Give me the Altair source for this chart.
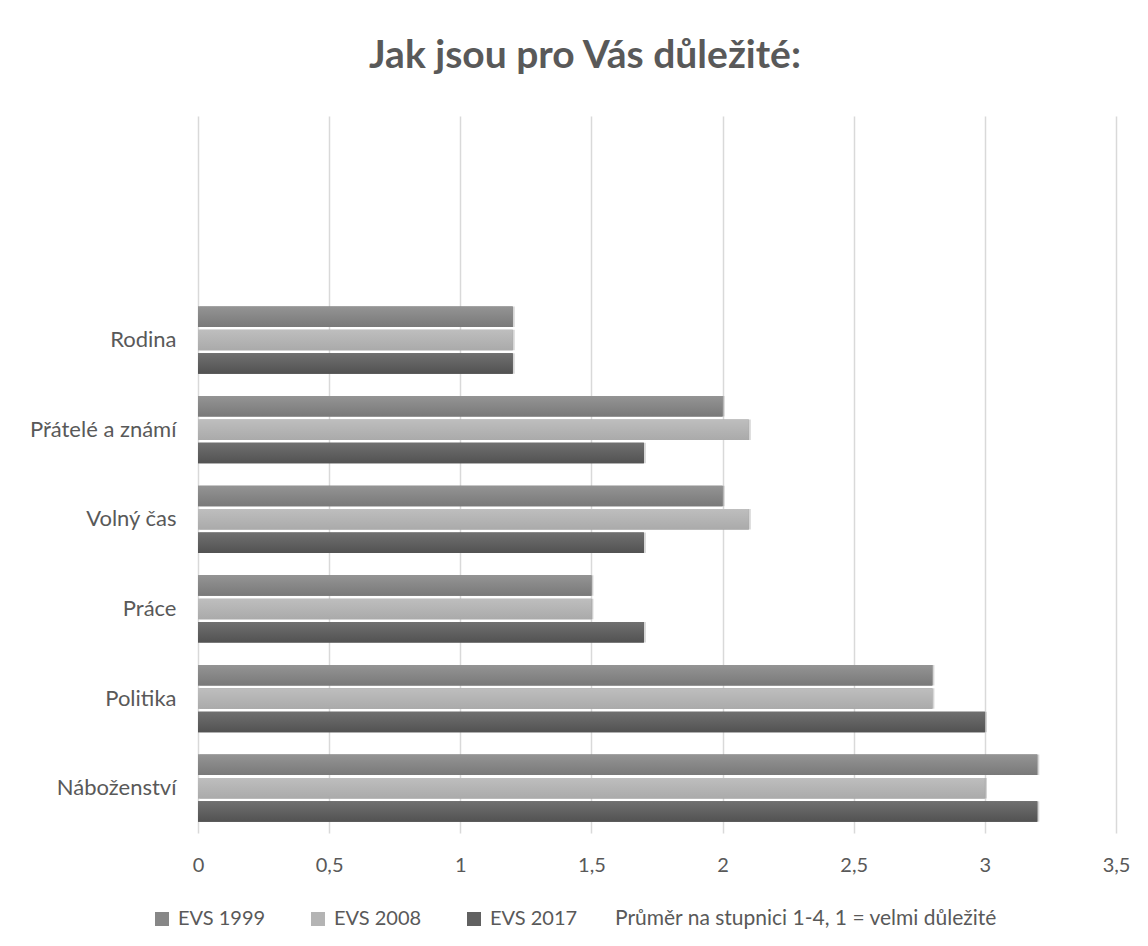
import altair as alt
import pandas as pd

categories = ["Rodina", "Přátelé a známí", "Volný čas", "Práce", "Politika", "Náboženství"]
blank_rows = [" ", "  "]
series = ["EVS 1999", "EVS 2008", "EVS 2017"]
v1999 = [1.2, 2.0, 2.0, 1.5, 2.8, 3.2]
v2008 = [1.2, 2.1, 2.1, 1.5, 2.8, 3.0]
v2017 = [1.2, 1.7, 1.7, 1.7, 3.0, 3.2]
x_ticks = [0, 0.5, 1, 1.5, 2, 2.5, 3, 3.5]
note = "Průměr na stupnici 1-4, 1 = velmi důležité"

flat_colors = ["#878787", "#b4b4b4", "#616161"]
grad_stops = [("#949494", "#797979"), ("#bebebe", "#aaaaaa"), ("#707070", "#525252")]

rows = []
for s, vals in zip(series, [v1999, v2008, v2017]):
    for c, v in zip(categories, vals):
        rows.append({"category": c, "series": s, "value": v})
df = pd.DataFrame(rows)

FONT = "Lato"
TXT = "#595959"
y_domain = blank_rows + categories

base = alt.Chart(df).encode(
    y=alt.Y("category:N", sort=y_domain,
            scale=alt.Scale(domain=y_domain, paddingInner=0.25, paddingOuter=0.125),
            axis=alt.Axis(title=None, domain=False, ticks=False, grid=False,
                          labelPadding=22, labelFontSize=22, labelFont=FONT, labelColor=TXT)),
    yOffset=alt.YOffset("series:N", sort=series,
                        scale=alt.Scale(domain=series, paddingInner=0.12, paddingOuter=0)),
    x=alt.X("value:Q",
            scale=alt.Scale(domain=[0, 3.5], nice=False),
            axis=alt.Axis(title=None, values=x_ticks, domain=False, ticks=False,
                          grid=True, gridColor="#d9d9d9", gridWidth=1.5, labelFlush=False,
                          labelPadding=22, labelFontSize=20, labelFont=FONT, labelColor=TXT,
                          labelExpr="replace(format(datum.value, '~g'), '.', ',')")),
)

legend_layer = base.mark_bar().encode(
    color=alt.Color("series:N", sort=series,
                    scale=alt.Scale(domain=series, range=flat_colors),
                    legend=alt.Legend(
                        orient="none", direction="horizontal",
                        legendX=-46, legendY=793,
                        title=note, titleOrient="right", titlePadding=38, titleLimit=700,
                        titleFont=FONT, titleFontSize=21, titleFontWeight="normal",
                        titleColor=TXT, titleBaseline="middle", titleAnchor="middle",
                        symbolType="square", symbolSize=196, symbolStrokeWidth=0,
                        labelFont=FONT, labelFontSize=20, labelColor=TXT,
                        labelOffset=6, columnPadding=42)),
)

shadow_layer = base.mark_bar(fill="#000000", opacity=0.16, xOffset=2, yOffset=2)

layers = [legend_layer, shadow_layer]
for s, (top, bot) in zip(series, grad_stops):
    layers.append(
        base.transform_filter(alt.datum.series == s).mark_bar(
            fill=alt.Gradient(
                gradient="linear", x1=0, x2=0, y1=0, y2=1,
                stops=[alt.GradientStop(color=top, offset=0),
                       alt.GradientStop(color=bot, offset=1)]))
    )

chart = alt.layer(*layers).properties(
    width=918, height=717,
    padding={"left": 190, "top": 108, "right": 24, "bottom": 105},
    autosize=alt.AutoSizeParams(type="none"),
    background="white",
    title=alt.TitleParams("Jak jsou pro Vás důležité:", font=FONT, fontSize=39,
                          fontWeight="bold", color=TXT, anchor="middle",
                          dx=-72, offset=9, baseline="alphabetic"),
).configure_view(strokeWidth=0)

chart.save("out.html", embed_options={"renderer": "svg", "actions": False})
